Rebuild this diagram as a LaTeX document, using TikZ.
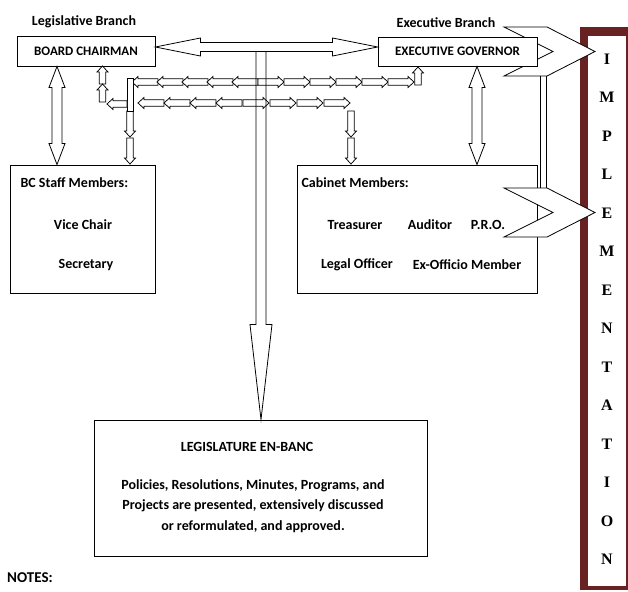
\documentclass[tikz,border=0pt]{standalone}
\usepackage{fontspec}
\setmainfont{Carlito}
\newfontfamily\implfont{Liberation Serif}
\usetikzlibrary{calc}
\definecolor{implred}{RGB}{104,34,34}

\newcommand{\bodyfont}{\fontsize{14}{17}\selectfont\bfseries}
\newcommand{\capsfont}{\fontsize{13}{15}\selectfont\bfseries}

% vertical two-headed block arrow, top point to bottom point
\newcommand{\vbiarrow}[2]{%
  \draw[blockline] (#1) -- ($(#1)+(8,21)$) -- ($(#1)+(5,21)$) -- ($(#2)+(5,-21)$)
    -- ($(#2)+(8,-21)$) -- (#2) -- ($(#2)+(-8,-21)$) -- ($(#2)+(-5,-21)$)
    -- ($(#1)+(-5,21)$) -- ($(#1)+(-8,21)$) -- cycle;}
% horizontal two-headed block arrow, left point to right point
\newcommand{\hbiarrow}[2]{%
  \draw[blockline] (#1) -- ($(#1)+(45,-9)$) -- ($(#1)+(45,-4.5)$) -- ($(#2)+(-45,-4.5)$)
    -- ($(#2)+(-45,-9)$) -- (#2) -- ($(#2)+(-45,9)$) -- ($(#2)+(-45,4.5)$)
    -- ($(#1)+(45,4.5)$) -- ($(#1)+(45,9)$) -- cycle;}

\tikzset{
  box/.style={draw, fill=white, line width=0.9pt, inner sep=0pt},
  blockline/.style={draw, fill=white, line width=0.8pt},
  letter/.style={font=\implfont\fontsize{16}{16}\selectfont\bfseries},
  link len/.store in=\linklen, link len=26,
  pics/link/.style={code={
    \draw[blockline, line width=0.75pt] (-\linklen/2,-3.2) -- (\linklen/2-6,-3.2) -- (\linklen/2-6,-5.5)
      -- (\linklen/2,0) -- (\linklen/2-6,5.5) -- (\linklen/2-6,3.2) -- (-\linklen/2,3.2) -- cycle;}},
  pics/chevron/.style={code={
    \draw[blockline] (0,0) -- (43,0) -- (91,24.5) -- (43,49) -- (0,49) -- (49,24.5) -- cycle;
    \coordinate (-top) at (39,0);
    \coordinate (-bot) at (39,49);}}
}

\begin{document}
\begin{tikzpicture}[x=1pt,y=-1pt]
  \useasboundingbox (0,0) rectangle (628,591);

  % Implementation column
  \fill[implred] (580,27) rectangle (628,590);
  \fill[white] (588,36) rectangle (626,586);
  \foreach \c [count=\i from 0] in {I,M,P,L,E,M,E,N,T,A,T,I,O,N}
    \node[letter] (imp\i) at (607,59+38.5*\i) {\c};

  % Branch titles
  \node[font=\bodyfont] (lbr) at (84,22) {Legislative Branch};
  \node[font=\bodyfont] (ebr) at (446,23) {Executive Branch};

  % Top chevron, then the governor box over it
  \pic (ch1) at (504,27) {chevron};
  \node[box, minimum width=138, minimum height=30] (bc) at (86,51) {\capsfont BOARD CHAIRMAN};
  \node[box, minimum width=159, minimum height=29] (eg) at (457.5,51.5) {\capsfont EXECUTIVE GOVERNOR};

  % Member boxes
  \node[box, minimum width=145, minimum height=128] (staff) at (82.5,229) {};
  \node[box, minimum width=240, minimum height=128] (cab) at (417,229) {};
  \pic (ch2) at (504,188) {chevron};
  \draw[line width=0.8pt] ($(ch1-bot)+(-3,0)$) -- ($(ch2-top)+(-3,0)$)
    ($(ch1-bot)+(3,0)$) -- ($(ch2-top)+(3,0)$);

  \node[font=\bodyfont, anchor=west] (stafft) at (17,183) {BC Staff Members:};
  \node[font=\bodyfont] (vice) at (83,225) {Vice Chair};
  \node[font=\bodyfont] (secr) at (86,265) {Secretary};
  \node[font=\bodyfont, anchor=west] (cabt) at (298,183) {Cabinet Members:};
  \node[font=\bodyfont] (treas) at (355,225) {Treasurer};
  \node[font=\bodyfont] (aud) at (430,225) {Auditor};
  \node[font=\bodyfont] (pro) at (488,225) {P.R.O.};
  \node[font=\bodyfont] (legal) at (357,265) {Legal Officer};
  \node[font=\bodyfont] (exof) at (467,265) {Ex-Officio Member};

  % Legislature en-banc
  \node[box, minimum width=333, minimum height=136] (leg) at (261,488) {};
  \node[font=\bodyfont] (legt) at (247,447) {LEGISLATURE EN-BANC};
  \node[font=\fontsize{14}{20.5}\selectfont\bfseries, align=center] (legb) at (253,506)
    {Policies, Resolutions, Minutes, Programs, and\\
     Projects are presented, extensively discussed\\
     or reformulated, and approved.};

  \node[font=\fontsize{15}{17}\selectfont\bfseries] (notes) at (30,578) {NOTES:};

  % Two-headed arrows between the boxes
  \coordinate (bcb) at ([xshift=-29pt]bc.south);
  \coordinate (stt) at (bcb |- staff.north);
  \vbiarrow{bcb}{stt}
  \coordinate (egb) at ([xshift=19.5pt]eg.south);
  \coordinate (cbt) at (egb |- cab.north);
  \vbiarrow{egb}{cbt}
  \coordinate (hl) at ([yshift=4pt]bc.east);
  \coordinate (hr) at (hl -| eg.west);
  \hbiarrow{hl}{hr}

  % Chains of small arrows
  \foreach \x in {145,170,195,220,245} \pic[rotate=180] at (\x,82) {link};
  \foreach \x in {271,297,323,349,375,401} \pic at (\x,82) {link};
  \pic[rotate=90, link len=18] at (418,76) {link};
  \foreach \x in {151,177,203,229} \pic[rotate=180] at (\x,103) {link};
  \foreach \x in {256,283,310,337} \pic at (\x,103) {link};
  \foreach \y in {124,151} {
    \pic[rotate=-90] at (130,\y) {link};
    \pic[rotate=-90] at (351,\y) {link};
  }
  \draw[blockline, line width=0.75pt] (127,78) rectangle (133,111);
  \pic[rotate=90, link len=18] at (102.5,75) {link};
  \pic[rotate=90, link len=18] at (102.5,93) {link};
  \pic[rotate=180, link len=20] at (117,104) {link};

  % Long arrow down to the legislature
  \coordinate (vtop) at ($(hl -| leg.north)+(0,4.5)$);
  \draw[line width=0.8pt] ($(vtop)+(-5,0)$) -- ($(leg.north)+(-5,-95)$) -- ($(leg.north)+(-11,-95)$)
    -- (leg.north) -- ($(leg.north)+(11,-95)$) -- ($(leg.north)+(5,-95)$) -- ($(vtop)+(5,0)$);
\end{tikzpicture}
\end{document}
